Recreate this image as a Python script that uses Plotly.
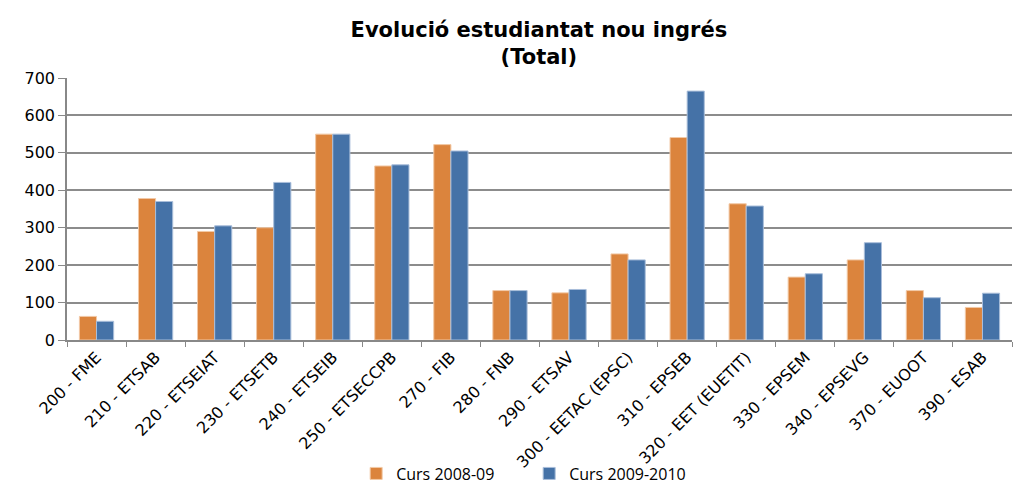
import plotly.graph_objects as go

categories = ["200 - FME", "210 - ETSAB", "220 - ETSEIAT", "230 - ETSETB", "240 - ETSEIB",
              "250 - ETSECCPB", "270 - FIB", "280 - FNB", "290 - ETSAV", "300 - EETAC (EPSC)",
              "310 - EPSEB", "320 - EET (EUETIT)", "330 - EPSEM", "340 - EPSEVG", "370 - EUOOT",
              "390 - ESAB"]
curs_2008_09 = [63, 378, 290, 300, 550, 465, 522, 132, 126, 230, 541, 364, 168, 214, 132, 87]
curs_2009_10 = [50, 370, 305, 421, 550, 468, 505, 132, 135, 214, 665, 358, 177, 260, 113, 125]
y_ticks = [0, 100, 200, 300, 400, 500, 600, 700]

fig = go.Figure()
fig.add_trace(go.Bar(x=categories, y=curs_2008_09, name="Curs 2008-09",
                     marker=dict(color="#DB843D", line=dict(color="#F2C9A6", width=1))))
fig.add_trace(go.Bar(x=categories, y=curs_2009_10, name="Curs 2009-2010",
                     marker=dict(color="#4572A7", line=dict(color="#A9BEDA", width=1))))

# page is rendered with an 8px body margin, so the figure is offset by 8px
fig.update_layout(
    width=1017, height=476,
    margin=dict(l=59, r=13, t=70, b=144),
    paper_bgcolor="white", plot_bgcolor="white",
    barmode="group", bargap=0.42, bargroupgap=0,
    title=dict(text="<b>Evolució estudiantat nou ingrés<br>(Total)</b>",
               x=0.522, xanchor="center", yref="container", y=0.94, yanchor="top",
               font=dict(family="DejaVu Sans", size=21, color="black")),
    legend=dict(orientation="h", x=0.306, xanchor="left", yref="container", y=0.022, yanchor="middle",
                font=dict(family="Open Sans", size=16, color="black"),
                bgcolor="rgba(0,0,0,0)",
                entrywidth=128, itemwidth=30),
    showlegend=True,
)
fig.update_xaxes(
    type="category", tickangle=-45, tickson="boundaries", ticks="outside", ticklen=5,
    tickcolor="#888", showline=True, linecolor="#888", linewidth=1.5, automargin=False,
    tickfont=dict(family="DejaVu Sans", size=16, color="black"), showgrid=False,
)
fig.update_yaxes(
    range=[0, 700], tickvals=y_ticks, ticks="outside", ticklen=7, tickcolor="#888",
    showline=True, linecolor="#888", linewidth=1.5, automargin=False,
    showgrid=True, gridcolor="#8c8c8c", gridwidth=1.5,
    tickfont=dict(family="DejaVu Sans", size=16, color="black"), zeroline=False,
)

fig.write_html("out.html")
